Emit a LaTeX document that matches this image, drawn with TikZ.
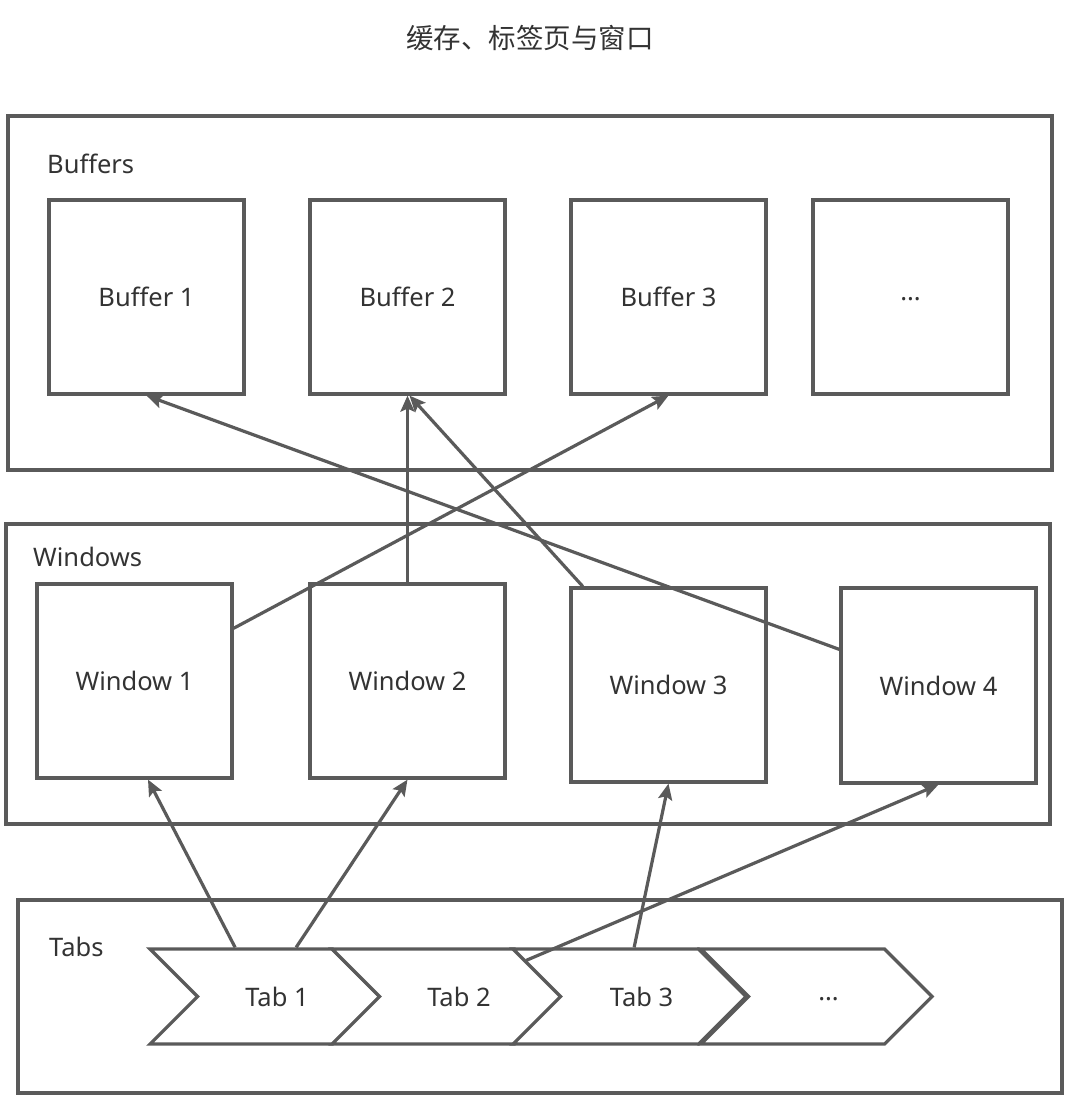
\documentclass[tikz,border=0pt]{standalone}
\usepackage{fontspec}
\setmainfont{Noto Sans}
\newfontfamily\cjk{Noto Sans CJK SC}
\usetikzlibrary{arrows.meta,calc,shapes.symbols}
\definecolor{linegray}{HTML}{5A5A5A}
\definecolor{textgray}{HTML}{333333}

\begin{document}
\begin{tikzpicture}[x=1pt,y=-1pt,
    every node/.style={text=textgray,font=\fontsize{25.5}{30}\selectfont},
    frame/.style={draw=linegray,line width=3.2pt,minimum width=1044pt},
    box/.style={draw=linegray,line width=3.2pt,minimum width=195pt,minimum height=194pt},
    tabshape/.style={draw=linegray,fill=white,line width=3.2pt,shape=signal,signal from=west,signal to=east,
        signal pointer angle=90,minimum height=95pt,minimum width=230pt,inner sep=0pt},
    caption/.style={anchor=west,inner sep=0pt},
    link/.style={draw=linegray,line width=3.2pt,-{Stealth[length=16pt,width=14pt,inset=3pt]}}]
		\useasboundingbox (0,0) rectangle (1072,1100);
		
		%%%%% TITLE %%%%%
		\node[font=\cjk\fontsize{27.5}{32}\selectfont] (title) at (530,38) {缓存、标签页与窗口};
		
		%%%%% BUFFERS %%%%%
		\node[frame, minimum height=354pt] (buffers) at (530,293) {};
		\node[caption] (buflabel) at (47,164) {Buffers};
		\node[box] (buf1) at (146.5,297) {Buffer 1};
		\node[box] (buf2) at (407.5,297) {Buffer 2};
		\node[box] (buf3) at (668.5,297) {Buffer 3};
		\node[box] (buf4) at (910.5,297) {\raisebox{-3pt}[0pt][0pt]{...}};
		
		%%%%% WINDOWS %%%%%
		\node[frame, minimum height=300pt] (windows) at (528,674) {};
		\node[caption] (winlabel) at (33,557) {Windows};
		\node[box] (win1) at (134.5,681) {Window 1};
		\node[box] (win2) at (407.5,681) {Window 2};
		\node[box] (win3) at (668.5,685) {Window 3};
		\node[box, minimum height=195pt] (win4) at (938.5,685.5) {Window 4};
		
		%%%%% TABS %%%%%
		\node[frame, minimum height=193pt] (tabs) at (540,996.5) {};
		\node[caption] (tablabel) at (49,947) {Tabs};
		\node[tabshape] (tab1) at (265,996.5) {\hspace*{24pt}Tab 1};
		\node[tabshape] (tab2) at (447,996.5) {\hspace*{24pt}Tab 2};
		\node[tabshape, minimum width=233pt] (tab3) at (629.5,996.5) {\hspace*{24pt}Tab 3};
		\node[tabshape, minimum width=231pt] (tab4) at (816.5,996.5) {\hspace*{24pt}\raisebox{-3.5pt}[0pt][0pt]{...}};
		
		%%%%% WINDOW -> BUFFER %%%%%
		\draw[link] (win4.160) -- (buf1.south);
		\draw[link] (win3.131) -- ($(buf2.south)+(2,0)$);
		\draw[link] (win2.north) -- (buf2.south);
		\draw[link] (win1.28) -- (buf3.south);
		
		%%%%% TAB -> WINDOW %%%%%
		\draw[link] ($(tab1.north west)+(89,0)$) -- ($(win1.south)+(13.5,0)$);
		\draw[link] ($(tab1.north west)+(150,0)$) -- (win2.south);
		\draw[link] ($(tab3.north west)+(125,0)$) -- (win3.south);
		\draw[link] ($(tab3.north west)+(17,13)$) -- (win4.south);
		
\end{tikzpicture}
\end{document}
